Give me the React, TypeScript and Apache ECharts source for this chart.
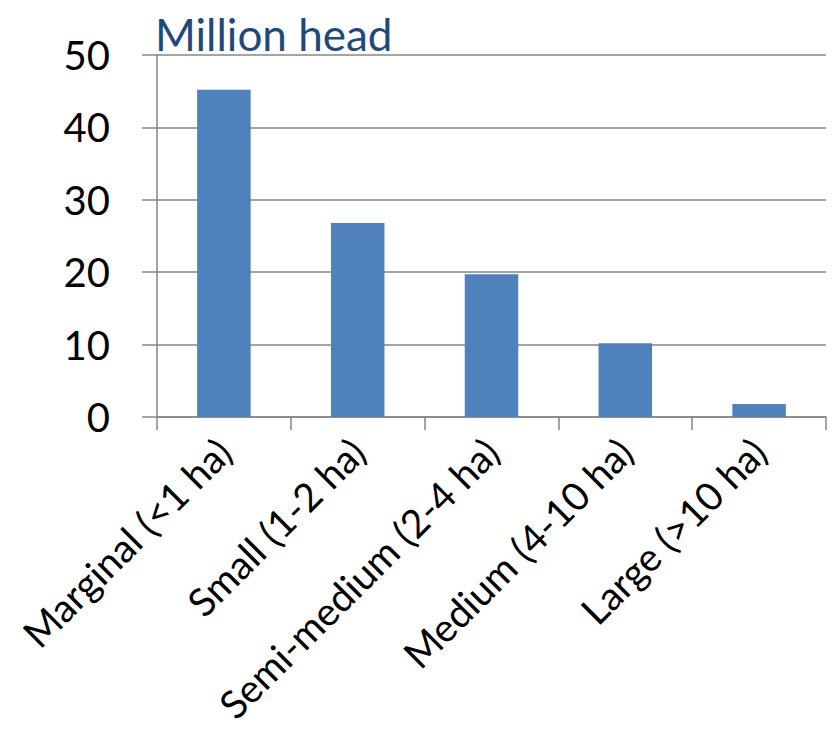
import React, { useEffect, useRef } from "react";
import * as echarts from "echarts";

const categories = [
  "Marginal (<1 ha)",
  "Small (1-2 ha)",
  "Semi-medium (2-4 ha)",
  "Medium (4-10 ha)",
  "Large (>10 ha)",
];
const values = [45.2, 26.8, 19.7, 10.2, 1.8];
const unitLabel = "Million head";

export default function App() {
  const ref = useRef<HTMLDivElement>(null);
  useEffect(() => {
    if (!ref.current) return;
    const chart = echarts.init(ref.current, undefined, { renderer: "svg" });
    const font = "Lato, 'Open Sans', sans-serif";
    chart.setOption({
      animation: false,
      backgroundColor: "#ffffff",
      title: {
        text: unitLabel,
        left: 147,
        top: 3,
        padding: 0,
        textStyle: { fontFamily: font, fontSize: 44, lineHeight: 46, fontWeight: "normal", color: "#1F497D" },
      },
      grid: { left: 149, right: 3, top: 47, bottom: 325, containLabel: false, outerBoundsMode: "none" },
      xAxis: {
        type: "category",
        data: categories,
        axisLine: { show: true, lineStyle: { color: "#868686", width: 1.5 } },
        axisTick: { show: true, length: 13, interval: 0, lineStyle: { color: "#868686", width: 1.5 } },
        axisLabel: {
          interval: 0,
          rotate: 45,
          margin: 28,
          fontFamily: font,
          fontSize: 39,
          color: "#000000",
        },
      },
      yAxis: {
        type: "value",
        min: 0,
        max: 50,
        interval: 10,
        axisLine: { show: true, lineStyle: { color: "#868686", width: 1.5 } },
        axisTick: { show: true, length: 15, lineStyle: { color: "#868686", width: 1.5 } },
        splitLine: { show: true, lineStyle: { color: "#868686", width: 1.5 } },
        axisLabel: { margin: 47, fontFamily: font, fontSize: 40, color: "#000000" },
      },
      series: [
        {
          type: "bar",
          data: values,
          barWidth: "40%",
          itemStyle: { color: "#4F81BD" },
        },
      ],
    });
    return () => chart.dispose();
  }, []);
  return <div ref={ref} style={{ width: 821, height: 734 }} />;
}
